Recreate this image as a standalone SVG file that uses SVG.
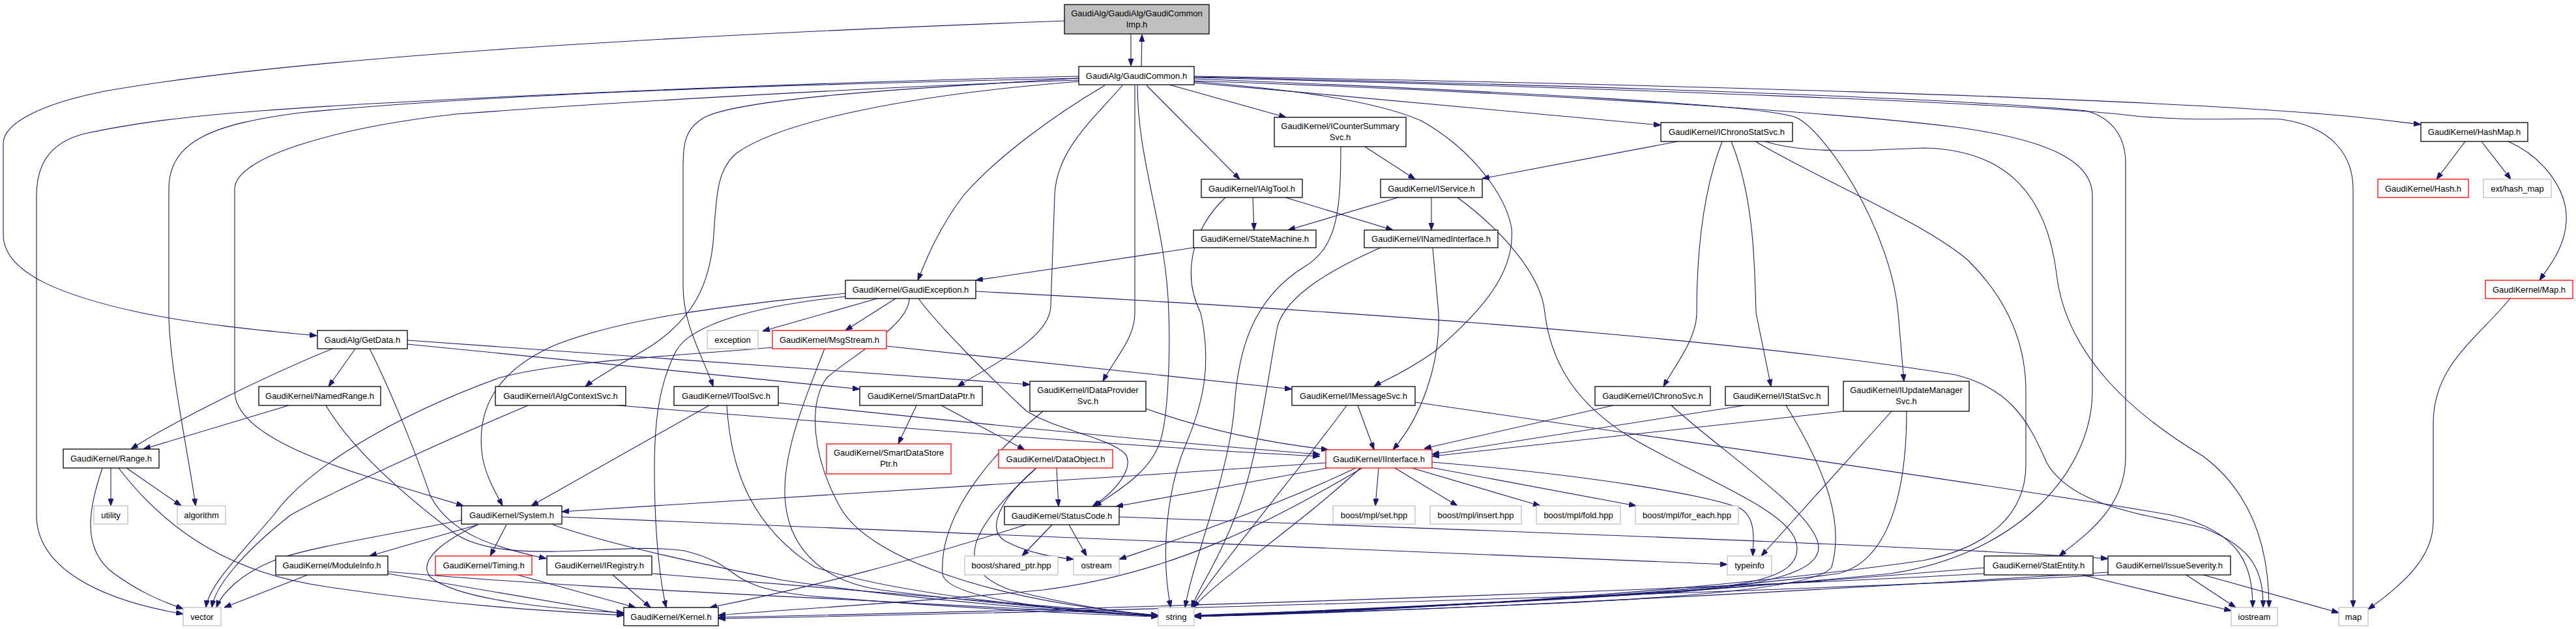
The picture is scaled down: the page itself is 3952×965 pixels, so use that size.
<svg xmlns="http://www.w3.org/2000/svg" width="3952" height="965" viewBox="0 0 3952 965">
<style>
.n rect{fill:#fff;stroke:#000;stroke-width:1.3}
.x rect{fill:#fff;stroke:#bfbfbf;stroke-width:1.3}
.r rect{fill:#fff;stroke:#ff0000;stroke-width:1.3}
.root rect{fill:#bfbfbf;stroke:#000;stroke-width:1.3}
text{font-family:"Liberation Sans",Arial,sans-serif;font-size:13px;fill:#000;text-anchor:middle}
.e path{fill:none;stroke:#191970;stroke-width:1.1;marker-end:url(#a)}
</style>
<defs>
<marker id="a" markerWidth="11" markerHeight="8" refX="11" refY="4" orient="auto" markerUnits="userSpaceOnUse"><path d="M0,0L11,4L0,8z" fill="#191970" stroke="#191970" stroke-width="1"/></marker>
</defs>
<rect width="3952" height="965" fill="#fff"/>
<g id="edges" class="e">
<path d="M1735,53L1735,101"/>
<path d="M1751,102L1752,53"/>
<path d="M1633,32C1200,48 500,80 160,140C60,160 5,190 5,220L5,360C5,420 100,455 217,480C300,497 400,507 486,515"/>
<path d="M1655,117C1300,125 700,148 400,170C270,180 200,190 130,205C70,220 56,260 56,300L56,790C56,870 150,920 281,942"/>
<path d="M1655,120C1300,128 800,140 460,173C330,190 259,215 259,290L259,480C259,560 290,700 300,776"/>
<path d="M1655,123C1300,135 900,160 700,175C520,195 360,240 360,290L360,600C360,680 560,730 711,776"/>
<path d="M1655,120C1400,135 1150,150 1085,178C1050,195 1048,220 1048,260L1048,440C1048,500 1080,550 1094,593"/>
<path d="M1655,125C1400,145 1200,185 1130,235C1100,260 1099,300 1095,360C1090,440 1060,490 1000,530C960,555 920,575 898,593"/>
<path d="M1695,131C1620,175 1530,240 1478,300C1440,350 1420,400 1408,430"/>
<path d="M1722,131C1680,180 1620,230 1618,300L1612,470C1610,520 1520,560 1469,593"/>
<path d="M1741,131L1741,480C1741,520 1710,550 1692,585"/>
<path d="M1745,131C1745,250 1790,350 1793,480C1796,560 1790,640 1782,670C1770,720 1720,750 1679,777"/>
<path d="M1832,124C2300,140 2800,170 3000,195C3150,215 3210,250 3210,300L3210,600C3210,720 3100,850 2900,880C2500,920 2100,935 1832,944"/>
<path d="M1759,131L1902,275"/>
<path d="M1794,130L1973,180"/>
<path d="M1832,127C2100,150 2400,180 2548,192"/>
<path d="M1832,125C1950,135 2100,150 2180,185C2260,230 2310,300 2319,350C2325,420 2270,480 2200,540C2150,575 2120,585 2108,593"/>
<path d="M1832,121C2300,140 2700,160 2755,180C2800,200 2900,350 2912,480L2921,585"/>
<path d="M1832,118C2400,130 3000,150 3200,170C3240,180 3261,210 3261,250L3261,700C3261,780 3200,820 3159,853"/>
<path d="M1832,119C2500,135 3100,160 3250,175C3350,188 3450,180 3500,183C3580,195 3610,240 3610,290L3610,932"/>
<path d="M1832,117C2500,128 3300,150 3600,178C3660,184 3690,188 3714,191"/>
<path d="M1346,458L1170,508"/>
<path d="M1374,458L1297,507"/>
<path d="M1297,450C1100,470 950,490 850,530C760,570 730,630 740,700C745,730 760,755 771,776"/>
<path d="M1297,455C1150,470 1060,500 1038,537C1010,590 1004,650 1004,720C1004,800 1010,880 1022,932"/>
<path d="M1395,458C1395,500 1300,550 1268,580C1240,620 1245,700 1290,780C1330,850 1500,920 1777,944"/>
<path d="M1409,458C1440,500 1520,580 1574,630C1620,660 1700,670 1727,697C1740,720 1710,755 1676,777"/>
<path d="M1497,447C1900,468 2600,510 3000,575C3080,595 3110,640 3140,710C3180,780 3300,790 3380,810C3460,840 3472,880 3472,932"/>
<path d="M1185,533C1050,545 850,555 765,580C600,640 470,720 420,790C360,860 320,900 316,932"/>
<path d="M1265,535C1240,600 1205,680 1204,750C1203,830 1250,890 1351,905C1500,925 1700,940 1777,945"/>
<path d="M1360,531L1982,597"/>
<path d="M545,535L504,593"/>
<path d="M510,535C400,580 260,650 201,689"/>
<path d="M625,528L1319,597"/>
<path d="M625,522L1580,590"/>
<path d="M567,535C600,600 640,700 660,760C690,820 760,840 838,857"/>
<path d="M500,622C540,690 620,760 700,820C780,870 950,830 1050,845C1150,870 1100,900 1250,915C1500,935 1700,944 1777,946"/>
<path d="M443,622L220,689"/>
<path d="M170,718L170,776"/>
<path d="M194,718L278,776"/>
<path d="M157,718C140,770 120,840 175,880C210,905 240,920 281,934"/>
<path d="M182,718C260,820 360,880 500,900C700,930 850,938 957,944"/>
<path d="M708,798C600,820 470,840 420,860C370,880 340,910 332,932"/>
<path d="M733,805L567,853"/>
<path d="M777,805L752,853"/>
<path d="M733,805C680,830 640,860 660,885C700,920 850,935 957,940"/>
<path d="M848,805C950,840 1100,870 1200,890C1400,920 1650,940 1777,944"/>
<path d="M862,793L2650,866"/>
<path d="M472,882L344,932"/>
<path d="M595,880L957,942"/>
<path d="M595,877C800,895 1000,905 1300,920C1500,930 1700,942 1777,945"/>
<path d="M794,882L975,932"/>
<path d="M940,882L998,932"/>
<path d="M1001,880C1300,905 1600,930 1777,944"/>
<path d="M810,622C650,690 500,760 446,790C370,850 330,900 325,932"/>
<path d="M947,622C1300,650 1800,690 2025,700"/>
<path d="M1088,622L815,776"/>
<path d="M1115,622C1120,700 1140,800 1250,870C1400,920 1700,940 1777,946"/>
<path d="M1194,618C1500,650 1800,680 2025,697"/>
<path d="M1406,622L1378,681"/>
<path d="M1444,622L1572,690"/>
<path d="M1758,627C1850,660 1950,680 2038,690"/>
<path d="M1600,631C1540,680 1440,780 1446,880C1450,920 1650,940 1777,945"/>
<path d="M1621,718L1624,777"/>
<path d="M1590,718C1500,800 1450,870 1550,905C1650,930 1720,940 1777,945"/>
<path d="M1590,718C1540,760 1510,810 1542,830C1580,850 1620,855 1647,858"/>
<path d="M1614,805L1568,853"/>
<path d="M1640,805L1667,853"/>
<path d="M1574,805C1400,860 1250,900 1089,932"/>
<path d="M1717,793C2300,815 2900,835 3234,857"/>
<path d="M2034,710C1600,740 1100,770 862,785"/>
<path d="M2037,718L1712,777"/>
<path d="M2080,718C1950,780 1800,830 1717,858"/>
<path d="M2090,718C1950,800 1800,880 1600,905C1400,925 1200,935 1102,944"/>
<path d="M2087,718C2000,800 1880,880 1830,932"/>
<path d="M2115,718L2110,776"/>
<path d="M2140,718L2236,776"/>
<path d="M2166,718L2363,776"/>
<path d="M2194,717L2510,776"/>
<path d="M2197,709C2450,730 2620,760 2670,780C2695,795 2690,830 2689,853"/>
<path d="M2083,622L2108,690"/>
<path d="M2066,622C2010,700 1900,830 1828,932"/>
<path d="M2171,617C2600,680 3100,750 3330,790C3440,815 3456,870 3456,932"/>
<path d="M2198,380L2207,480C2210,560 2180,640 2137,690"/>
<path d="M2118,380C2050,410 1975,450 1960,500C1945,580 1930,700 1900,780C1870,860 1840,900 1828,932"/>
<path d="M2094,225L2171,275"/>
<path d="M2057,225C2057,330 2050,380 2000,410C1920,460 1900,540 1894,620C1888,720 1830,860 1818,932"/>
<path d="M1922,303L1924,353"/>
<path d="M1972,303L2137,353"/>
<path d="M1880,303C1830,350 1812,420 1842,480C1860,560 1845,620 1820,680C1790,750 1780,850 1796,932"/>
<path d="M2145,303L1976,353"/>
<path d="M2196,303L2196,353"/>
<path d="M2236,303C2300,350 2365,420 2370,480C2380,560 2420,620 2500,670C2600,730 2740,780 2755,830C2770,880 2700,895 2600,905C2300,925 2000,940 1832,945"/>
<path d="M1831,380L1497,430"/>
<path d="M2574,217L2274,274"/>
<path d="M2642,217C2610,300 2603,400 2603,480C2603,520 2570,560 2552,593"/>
<path d="M2656,217C2690,300 2692,400 2694,480L2717,593"/>
<path d="M2708,217C2780,240 2900,228 2952,227C3080,230 3140,300 3155,420C3170,550 3280,640 3380,700C3460,760 3481,850 3481,932"/>
<path d="M2693,217C2800,280 2950,340 3020,400C3090,470 3108,540 3108,600L3108,713C3108,790 3050,840 2950,860C2600,910 2100,940 1832,945"/>
<path d="M2475,622L2185,688"/>
<path d="M2564,622C2650,700 2790,790 2790,840C2790,880 2700,900 2550,910C2200,930 1950,940 1832,945"/>
<path d="M2676,622L2197,697"/>
<path d="M2740,622C2800,720 2830,800 2810,870C2790,900 2600,915 2400,925C2100,938 1900,944 1832,946"/>
<path d="M2828,631L2197,700"/>
<path d="M2902,631L2702,853"/>
<path d="M2925,631C2925,750 2900,860 2820,880C2600,910 2100,938 1832,946"/>
<path d="M3782,217L3738,275"/>
<path d="M3807,217L3852,275"/>
<path d="M3848,217C3900,240 3940,290 3937,340C3935,380 3910,410 3896,430"/>
<path d="M3851,458C3800,520 3733,560 3733,650L3733,800C3733,860 3680,900 3633,935"/>
<path d="M3194,882L3423,937"/>
<path d="M3044,871C2700,900 2200,935 1832,945"/>
<path d="M3044,880C2500,910 1500,940 1102,947"/>
<path d="M3354,882L3430,932"/>
<path d="M3380,882L3588,940"/>
<path d="M3234,878C2800,905 2200,938 1832,946"/>
<path d="M3234,882C2600,915 1500,942 1102,949"/>
</g>
<g id="n_imp" class="root"><rect x="1633" y="7" width="222" height="45"/><text x="1744" y="25">GaudiAlg/GaudiAlg/GaudiCommon</text><text x="1744" y="42">Imp.h</text></g>
<g id="n_gc" class="n"><rect x="1655" y="102" width="177" height="28"/><text x="1743.5" y="121">GaudiAlg/GaudiCommon.h</text></g>
<g id="n_getdata" class="n"><rect x="487" y="507" width="138" height="28"/><text x="556" y="526">GaudiAlg/GetData.h</text></g>
<g id="n_namedrange" class="n"><rect x="397" y="593" width="187" height="29"/><text x="490.5" y="612">GaudiKernel/NamedRange.h</text></g>
<g id="n_ialgcontextsvc" class="n"><rect x="760" y="593" width="200" height="29"/><text x="860" y="612">GaudiKernel/IAlgContextSvc.h</text></g>
<g id="n_range" class="n"><rect x="97" y="689" width="147" height="29"/><text x="170.5" y="708">GaudiKernel/Range.h</text></g>
<g id="n_utility" class="x"><rect x="144" y="776" width="52" height="28"/><text x="170" y="795">utility</text></g>
<g id="n_algorithm" class="x"><rect x="272" y="776" width="74" height="28"/><text x="309" y="795">algorithm</text></g>
<g id="n_system" class="n"><rect x="708" y="776" width="154" height="28"/><text x="785" y="795">GaudiKernel/System.h</text></g>
<g id="n_moduleinfo" class="n"><rect x="423" y="853" width="172" height="29"/><text x="509" y="872">GaudiKernel/ModuleInfo.h</text></g>
<g id="n_timing" class="r"><rect x="668" y="853" width="148" height="29"/><text x="742" y="872">GaudiKernel/Timing.h</text></g>
<g id="n_iregistry" class="n"><rect x="839" y="853" width="161" height="29"/><text x="919.5" y="872">GaudiKernel/IRegistry.h</text></g>
<g id="n_vector" class="x"><rect x="281" y="932" width="58" height="28"/><text x="310" y="951">vector</text></g>
<g id="n_kernel" class="n"><rect x="957" y="932" width="145" height="28"/><text x="1029.5" y="951">GaudiKernel/Kernel.h</text></g>
<g id="n_exception" class="x"><rect x="1085" y="507" width="78" height="28"/><text x="1124" y="526">exception</text></g>
<g id="n_msgstream" class="r"><rect x="1185" y="507" width="175" height="28"/><text x="1272.5" y="526">GaudiKernel/MsgStream.h</text></g>
<g id="n_itoolsvc" class="n"><rect x="1034" y="593" width="160" height="29"/><text x="1114" y="612">GaudiKernel/IToolSvc.h</text></g>
<g id="n_smartdataptr" class="n"><rect x="1319" y="593" width="188" height="29"/><text x="1413" y="612">GaudiKernel/SmartDataPtr.h</text></g>
<g id="n_idataprovidersvc" class="n"><rect x="1580" y="585" width="178" height="46"/><text x="1669" y="603">GaudiKernel/IDataProvider</text><text x="1669" y="620">Svc.h</text></g>
<g id="n_smartdatastoreptr" class="r"><rect x="1268" y="681" width="191" height="46"/><text x="1363.5" y="699">GaudiKernel/SmartDataStore</text><text x="1363.5" y="716">Ptr.h</text></g>
<g id="n_dataobject" class="r"><rect x="1532" y="690" width="175" height="28"/><text x="1619.5" y="709">GaudiKernel/DataObject.h</text></g>
<g id="n_statuscode" class="n"><rect x="1541" y="777" width="176" height="28"/><text x="1629" y="796">GaudiKernel/StatusCode.h</text></g>
<g id="n_sharedptr" class="x"><rect x="1480" y="853" width="143" height="29"/><text x="1551.5" y="872">boost/shared_ptr.hpp</text></g>
<g id="n_ostream" class="x"><rect x="1647" y="853" width="70" height="29"/><text x="1682" y="872">ostream</text></g>
<g id="n_string" class="x"><rect x="1777" y="932" width="55" height="28"/><text x="1804.5" y="951">string</text></g>
<g id="n_gaudiexception" class="n"><rect x="1297" y="430" width="200" height="28"/><text x="1397" y="449">GaudiKernel/GaudiException.h</text></g>
<g id="n_ialgtool" class="n"><rect x="1843" y="275" width="155" height="28"/><text x="1920.5" y="294">GaudiKernel/IAlgTool.h</text></g>
<g id="n_statemachine" class="n"><rect x="1831" y="353" width="188" height="27"/><text x="1925" y="371">GaudiKernel/StateMachine.h</text></g>
<g id="n_icountersummarysvc" class="n"><rect x="1955" y="180" width="202" height="45"/><text x="2056" y="198">GaudiKernel/ICounterSummary</text><text x="2056" y="215">Svc.h</text></g>
<g id="n_iservice" class="n"><rect x="2118" y="275" width="156" height="28"/><text x="2196" y="294">GaudiKernel/IService.h</text></g>
<g id="n_inamedinterface" class="n"><rect x="2093" y="353" width="205" height="27"/><text x="2195.5" y="371">GaudiKernel/INamedInterface.h</text></g>
<g id="n_ichronostatsvc" class="n"><rect x="2548" y="188" width="202" height="29"/><text x="2649" y="207">GaudiKernel/IChronoStatSvc.h</text></g>
<g id="n_imessagesvc" class="n"><rect x="1982" y="593" width="189" height="29"/><text x="2076.5" y="612">GaudiKernel/IMessageSvc.h</text></g>
<g id="n_ichronosvc" class="n"><rect x="2447" y="593" width="177" height="29"/><text x="2535.5" y="612">GaudiKernel/IChronoSvc.h</text></g>
<g id="n_istatsvc" class="n"><rect x="2647" y="593" width="158" height="29"/><text x="2726" y="612">GaudiKernel/IStatSvc.h</text></g>
<g id="n_iupdatemanagersvc" class="n"><rect x="2828" y="585" width="193" height="46"/><text x="2924.5" y="603">GaudiKernel/IUpdateManager</text><text x="2924.5" y="620">Svc.h</text></g>
<g id="n_iinterface" class="r"><rect x="2034" y="690" width="163" height="28"/><text x="2115.5" y="709">GaudiKernel/IInterface.h</text></g>
<g id="n_mplset" class="x"><rect x="2045" y="776" width="126" height="28"/><text x="2108" y="795">boost/mpl/set.hpp</text></g>
<g id="n_mplinsert" class="x"><rect x="2194" y="776" width="140" height="28"/><text x="2264" y="795">boost/mpl/insert.hpp</text></g>
<g id="n_mplfold" class="x"><rect x="2357" y="776" width="129" height="28"/><text x="2421.5" y="795">boost/mpl/fold.hpp</text></g>
<g id="n_mplforeach" class="x"><rect x="2509" y="776" width="158" height="28"/><text x="2588" y="795">boost/mpl/for_each.hpp</text></g>
<g id="n_typeinfo" class="x"><rect x="2650" y="853" width="68" height="29"/><text x="2684" y="872">typeinfo</text></g>
<g id="n_hashmap" class="n"><rect x="3714" y="188" width="164" height="29"/><text x="3796" y="207">GaudiKernel/HashMap.h</text></g>
<g id="n_hash" class="r"><rect x="3648" y="275" width="139" height="28"/><text x="3717.5" y="294">GaudiKernel/Hash.h</text></g>
<g id="n_exthashmap" class="x"><rect x="3810" y="275" width="104" height="28"/><text x="3862" y="294">ext/hash_map</text></g>
<g id="n_map_h" class="r"><rect x="3813" y="430" width="134" height="28"/><text x="3880" y="449">GaudiKernel/Map.h</text></g>
<g id="n_statentity" class="n"><rect x="3044" y="853" width="167" height="29"/><text x="3127.5" y="872">GaudiKernel/StatEntity.h</text></g>
<g id="n_issueseverity" class="n"><rect x="3234" y="853" width="188" height="29"/><text x="3328" y="872">GaudiKernel/IssueSeverity.h</text></g>
<g id="n_iostream" class="x"><rect x="3423" y="932" width="71" height="28"/><text x="3458.5" y="951">iostream</text></g>
<g id="n_map" class="x"><rect x="3588" y="932" width="45" height="28"/><text x="3610.5" y="951">map</text></g>
</svg>
